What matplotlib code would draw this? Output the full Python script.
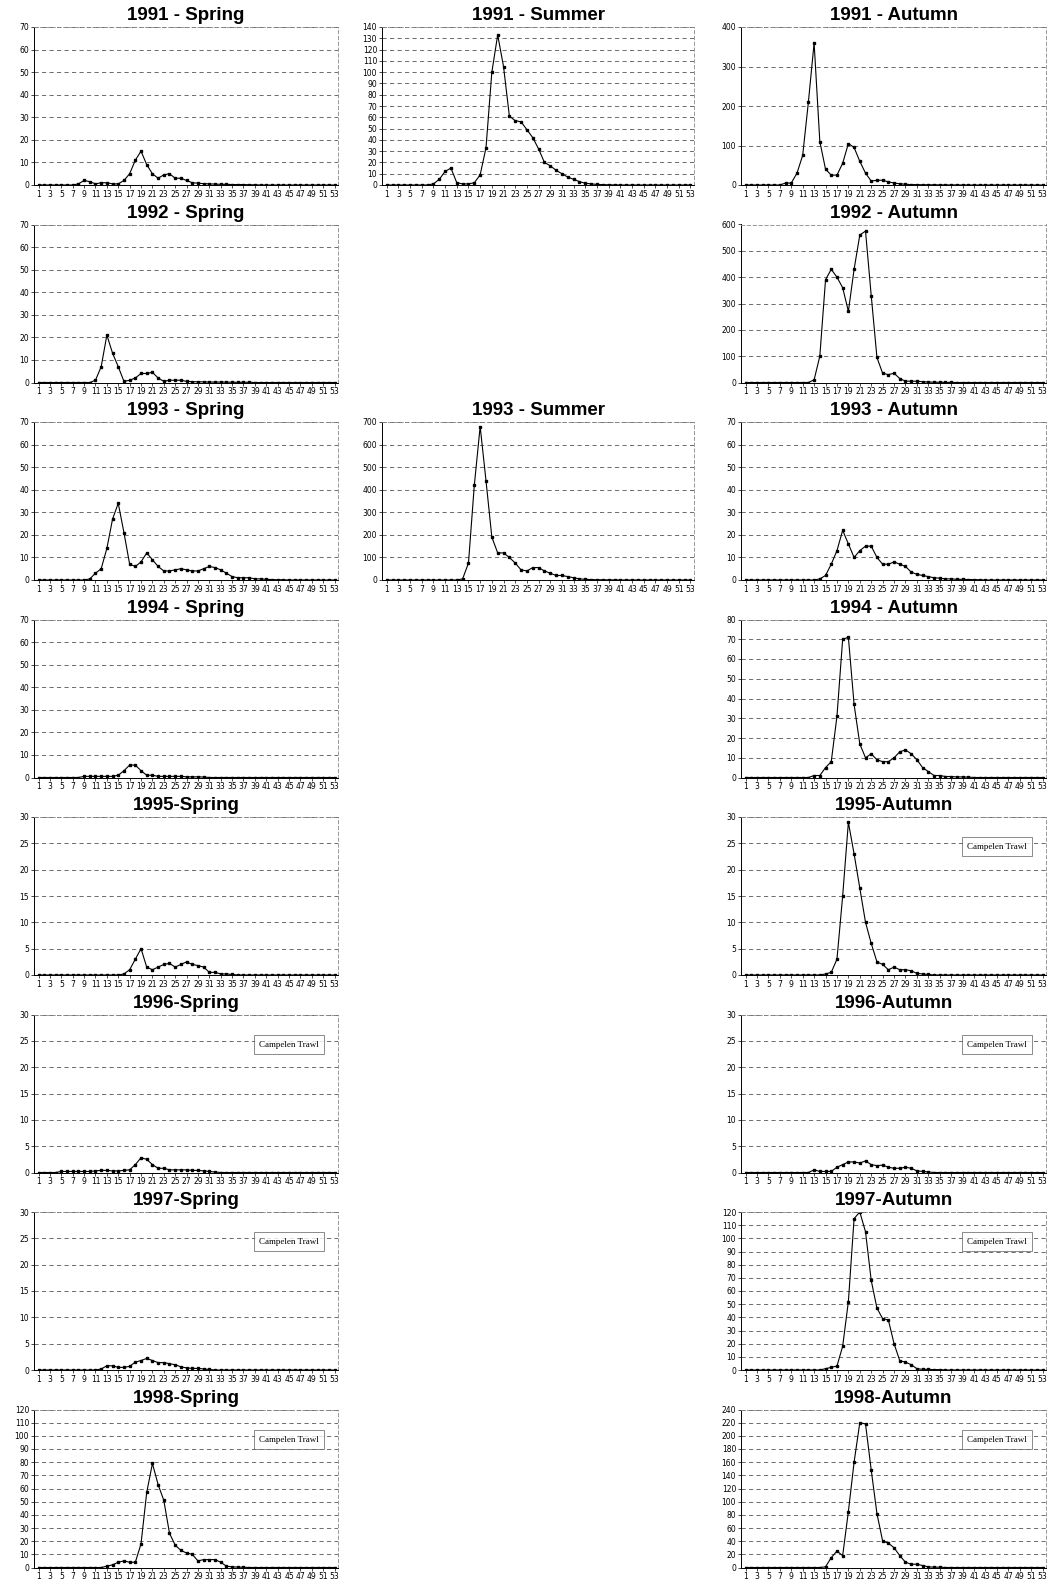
import matplotlib
matplotlib.use("Agg")
import matplotlib.pyplot as plt
from matplotlib.lines import Line2D

weeks = list(range(1, 54))
week_labels = [str(w) for w in range(1, 54, 2)]

spring_1991 = [0]*7 + [0.5, 2, 1.5, 0.5, 1, 1, 0.5, 0.5, 2, 5, 11, 15, 9, 5, 3, 4.5, 5, 3, 3, 2, 1, 0.8,
                       0.6, 0.5, 0.4, 0.3, 0.3, 0.2, 0.2, 0.2, 0.1, 0.1] + [0]*14
summer_1991 = [0]*8 + [1, 5, 12, 15, 2, 1, 1, 2, 9, 33, 100, 133, 105, 61, 57, 56, 49, 42, 32, 20, 17, 13,
                       10, 7, 5, 3, 1.5, 1, 0.5, 0.3, 0.2, 0.1] + [0]*13
autumn_1991 = [0]*7 + [5, 5, 30, 75, 210, 360, 110, 40, 25, 25, 55, 105, 95, 60, 30, 10, 12, 12, 8, 5, 3,
                       2, 1, 1, 0.5, 0.5, 0.5, 0.3, 0.3, 0.2, 0.2, 0.1] + [0]*14
spring_1992 = [0]*10 + [1, 7, 21, 13, 7, 0.5, 1, 2, 4, 4, 4.5, 2, 0.5, 1, 1, 1, 0.5, 0.4, 0.3, 0.3, 0.2,
                        0.2, 0.2, 0.2, 0.1, 0.1, 0.1, 0.1] + [0]*15
autumn_1992 = [0]*12 + [10, 100, 390, 430, 400, 360, 270, 430, 560, 575, 330, 95, 35, 30, 35, 15, 5, 5,
                        5, 3, 2, 1, 1, 0.5, 0.5] + [0]*16
spring_1993 = [0]*9 + [0.5, 3, 5, 14, 27, 34, 21, 7, 6, 8, 12, 9, 6, 4, 4, 4.5, 5, 4.5, 4, 4, 5, 6, 5.5,
                       4.5, 3, 1.5, 1, 1, 1, 0.5, 0.5, 0.3, 0.2, 0.1, 0.1] + [0]*9
summer_1993 = [0]*13 + [5, 75, 420, 680, 440, 190, 120, 120, 100, 75, 45, 40, 55, 55, 40, 30, 20, 20, 15,
                        10, 5, 3, 2, 1, 1, 0.5, 0.5] + [0]*13
autumn_1993 = [0]*13 + [0.5, 2, 7, 13, 22, 16, 10, 13, 15, 15, 10, 7, 7, 8, 7, 6, 3.5, 2.5, 2, 1.5, 1,
                        0.8, 0.5, 0.5, 0.3, 0.3, 0.2, 0.2, 0.1] + [0]*11
spring_1994 = [0]*8 + [0.5, 0.5, 0.5, 0.5, 0.5, 0.5, 1, 3, 5.5, 5.5, 3, 1, 1, 0.5, 0.5, 0.5, 0.5, 0.5,
                       0.3, 0.3, 0.3, 0.2] + [0]*23
autumn_1994 = [0]*12 + [1, 1, 5, 8, 31, 70, 71, 37, 17, 10, 12, 9, 8, 8, 10, 13, 14, 12, 9, 5, 3, 1, 1,
                        0.5, 0.5, 0.3, 0.3, 0.2] + [0]*13
spring_1995 = [0]*15 + [0.2, 1, 3, 5, 1.5, 1, 1.5, 2, 2.2, 1.5, 2, 2.5, 2, 1.8, 1.5, 0.5, 0.5, 0.2, 0.2,
                        0.1] + [0]*18
autumn_1995 = [0]*14 + [0.2, 0.5, 3, 15, 29, 23, 16.5, 10, 6, 2.5, 2, 1, 1.5, 1, 1, 0.8, 0.3, 0.2,
                        0.1] + [0]*20
spring_1996 = [0]*4 + [0.2, 0.2, 0.2, 0.2, 0.2, 0.2, 0.3, 0.4, 0.4, 0.3, 0.3, 0.4, 0.5, 1.5, 2.8, 2.5,
                       1.5, 0.8, 0.8, 0.5, 0.5, 0.5, 0.5, 0.4, 0.4, 0.3, 0.2, 0.1] + [0]*21
autumn_1996 = [0]*12 + [0.5, 0.2, 0.2, 0.2, 1, 1.5, 2, 2, 1.8, 2.2, 1.5, 1.3, 1.4, 1, 0.8, 0.8, 1, 0.8,
                        0.3, 0.2, 0.1] + [0]*20
spring_1997 = [0]*11 + [0.2, 0.8, 0.8, 0.5, 0.5, 0.7, 1.5, 1.8, 2.2, 1.8, 1.4, 1.4, 1.2, 1, 0.6, 0.4,
                        0.3, 0.3, 0.2, 0.1] + [0]*22
autumn_1997 = [0]*14 + [1, 2, 3, 18, 52, 115, 120, 105, 68, 47, 39, 38, 20, 7, 6, 4, 1, 0.5, 0.5, 0.3,
                        0.3] + [0]*18
spring_1998 = [0]*12 + [1, 2, 4, 5, 4, 4, 18, 57, 79, 63, 51, 26, 17, 13, 11, 10, 5, 6, 6, 6, 4, 1, 0.5,
                        0.3, 0.2] + [0]*16
autumn_1998 = [0]*14 + [1, 15, 25, 18, 85, 160, 220, 218, 148, 82, 40, 37, 30, 18, 8, 5, 5, 3, 1, 0.5,
                        0.5] + [0]*18

panels = [
    (0, 0, "1991 - Spring", spring_1991, 70, 10, False),
    (0, 1, "1991 - Summer", summer_1991, 140, 10, False),
    (0, 2, "1991 - Autumn", autumn_1991, 400, 100, False),
    (1, 0, "1992 - Spring", spring_1992, 70, 10, False),
    (1, 2, "1992 - Autumn", autumn_1992, 600, 100, False),
    (2, 0, "1993 - Spring", spring_1993, 70, 10, False),
    (2, 1, "1993 - Summer", summer_1993, 700, 100, False),
    (2, 2, "1993 - Autumn", autumn_1993, 70, 10, False),
    (3, 0, "1994 - Spring", spring_1994, 70, 10, False),
    (3, 2, "1994 - Autumn", autumn_1994, 80, 10, False),
    (4, 0, "1995-Spring", spring_1995, 30, 5, False),
    (4, 2, "1995-Autumn", autumn_1995, 30, 5, True),
    (5, 0, "1996-Spring", spring_1996, 30, 5, True),
    (5, 2, "1996-Autumn", autumn_1996, 30, 5, True),
    (6, 0, "1997-Spring", spring_1997, 30, 5, True),
    (6, 2, "1997-Autumn", autumn_1997, 120, 10, True),
    (7, 0, "1998-Spring", spring_1998, 120, 10, True),
    (7, 2, "1998-Autumn", autumn_1998, 240, 20, True),
]

W, H = 1050, 1583
fig = plt.figure(figsize=(W/100, H/100), dpi=100)
fig.patch.set_facecolor("white")

col_x = [(34, 338), (382, 694), (741, 1046)]
row_pitch = 197.5
top0, bot0 = 27, 185

for r, c, title, vals, ymax, ystep, legend in panels:
    x0, x1 = col_x[c]
    top = top0 + r*row_pitch
    bot = bot0 + r*row_pitch
    ax = fig.add_axes([x0/W, 1 - bot/H, (x1-x0)/W, (bot-top)/H])
    ax.plot(weeks, vals, color="black", lw=0.8, marker="s", ms=1.8,
            mfc="black", mec="black")
    ax.set_xlim(0.2, 53.6)
    ax.set_ylim(0, ymax)
    ax.set_yticks(list(range(0, ymax + 1, ystep)))
    ax.set_xticks(list(range(1, 54, 2)))
    ax.set_xticklabels(week_labels)
    ax.tick_params(axis="both", labelsize=5.5, length=2, width=0.5, pad=1.5)
    ax.yaxis.grid(True, color="#555555", lw=0.6, linestyle=(0, (5, 4)))
    ax.set_axisbelow(True)
    for s in ("top", "right"):
        ax.spines[s].set_color("#888888")
        ax.spines[s].set_linewidth(0.6)
        ax.spines[s].set_linestyle((0, (4, 3)))
    for s in ("left", "bottom"):
        ax.spines[s].set_color("black")
        ax.spines[s].set_linewidth(0.7)
    ax.set_title(title, fontsize=13.5, fontweight="bold", family="Liberation Sans", pad=5)
    if legend:
        h = Line2D([], [], color="none")
        leg = ax.legend([h], ["Campelen Trawl"], loc="upper right", bbox_to_anchor=(0.97, 0.9),
                        handlelength=0, handletextpad=0, borderpad=0.6, fancybox=False,
                        prop={"family": "Liberation Serif", "size": 6.5})
        leg.get_frame().set_edgecolor("#555555")
        leg.get_frame().set_linewidth(0.6)

fig.savefig("out.png", dpi=100, facecolor="white")
